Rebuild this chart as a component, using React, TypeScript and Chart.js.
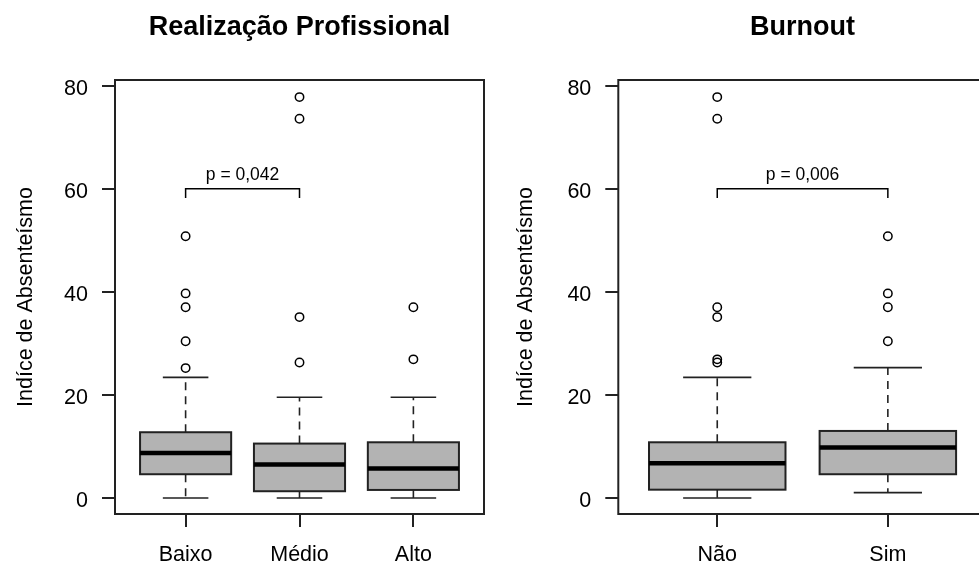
import React, { useEffect, useRef } from 'react';
import { Chart, registerables } from 'chart.js';

Chart.register(...registerables);

// ---------- data ----------
const yTicks = [0, 20, 40, 60, 80];
const yMin = -3.12;
const yMax = 81.12;

const realTitle = 'Realização Profissional';
const realCategories = ['Baixo', 'Médio', 'Alto'];
const realWhiskerLow = [0, 0, 0];
const realQ1 = [4.6, 1.3, 1.55];
const realMedian = [8.7, 6.5, 5.7];
const realQ3 = [12.75, 10.55, 10.8];
const realWhiskerHigh = [23.4, 19.55, 19.55];
const realOutliers = [
  [25.2, 30.4, 37, 39.7, 50.8],
  [26.3, 35.1, 73.6, 77.8],
  [26.9, 37],
];
const realPLabel = 'p = 0,042';
const realBracketFrom = 1;
const realBracketTo = 2;

const burnTitle = 'Burnout';
const burnCategories = ['Não', 'Sim'];
const burnWhiskerLow = [0, 1.03];
const burnQ1 = [1.6, 4.6];
const burnMedian = [6.75, 9.77];
const burnQ3 = [10.8, 13.0];
const burnWhiskerHigh = [23.4, 25.3];
const burnOutliers = [
  [26.3, 26.9, 35.1, 37, 73.6, 77.8],
  [30.4, 37, 39.7, 50.8],
];
const burnPLabel = 'p = 0,006';
const burnBracketFrom = 1;
const burnBracketTo = 2;

const bracketY = 60;
const bracketTickY = 58.2;
const pLabelY = 62.6;
const yLabel = 'Indíce de Absenteísmo';

// ---------- style ----------
const FONT = 'Liberation Sans, Arial, Helvetica, sans-serif';
const LINE = '#222222';

type Spec = {
  title: string;
  cats: string[];
  lo: number[];
  q1: number[];
  med: number[];
  q3: number[];
  hi: number[];
  out: number[][];
  pLabel: string;
  bFrom: number;
  bTo: number;
  padRight: number;
  axisWidth: number;
};

function makePlugin(spec: Spec) {
  return {
    id: 'boxplotDraw',
    beforeDatasetsDraw(chart: any) {
      const { ctx, chartArea } = chart;
      const x = chart.scales.x;
      const y = chart.scales.y;
      ctx.save();
      spec.cats.forEach((_, i) => {
        const pos = i + 1;
        const cx = x.getPixelForValue(pos);
        const bl = x.getPixelForValue(pos - 0.4);
        const br = x.getPixelForValue(pos + 0.4);
        const cl = x.getPixelForValue(pos - 0.2);
        const cr = x.getPixelForValue(pos + 0.2);
        const yLo = y.getPixelForValue(spec.lo[i]);
        const yQ1 = y.getPixelForValue(spec.q1[i]);
        const yMed = y.getPixelForValue(spec.med[i]);
        const yQ3 = y.getPixelForValue(spec.q3[i]);
        const yHi = y.getPixelForValue(spec.hi[i]);

        // dashed whiskers
        ctx.strokeStyle = LINE;
        ctx.lineWidth = 1.6;
        ctx.setLineDash([8, 6]);
        ctx.beginPath();
        ctx.moveTo(cx, yQ3);
        ctx.lineTo(cx, yHi);
        ctx.moveTo(cx, yQ1);
        ctx.lineTo(cx, yLo);
        ctx.stroke();
        ctx.setLineDash([]);

        // staples
        ctx.beginPath();
        ctx.moveTo(cl, yHi);
        ctx.lineTo(cr, yHi);
        ctx.moveTo(cl, yLo);
        ctx.lineTo(cr, yLo);
        ctx.stroke();

        // box
        ctx.fillStyle = '#b3b3b3';
        ctx.fillRect(bl, yQ3, br - bl, yQ1 - yQ3);
        ctx.lineWidth = 2;
        ctx.strokeRect(bl, yQ3, br - bl, yQ1 - yQ3);

        // median
        ctx.strokeStyle = '#000';
        ctx.lineWidth = 4.5;
        ctx.beginPath();
        ctx.moveTo(bl, yMed);
        ctx.lineTo(br, yMed);
        ctx.stroke();
      });

      // bracket with p-value
      const bx1 = x.getPixelForValue(spec.bFrom);
      const bx2 = x.getPixelForValue(spec.bTo);
      const byTop = y.getPixelForValue(bracketY);
      const byTick = y.getPixelForValue(bracketTickY);
      ctx.strokeStyle = '#000';
      ctx.lineWidth = 1.5;
      ctx.beginPath();
      ctx.moveTo(bx1, byTick);
      ctx.lineTo(bx1, byTop);
      ctx.lineTo(bx2, byTop);
      ctx.lineTo(bx2, byTick);
      ctx.stroke();
      ctx.fillStyle = '#000';
      ctx.font = `17.5px ${FONT}`;
      ctx.textAlign = 'center';
      ctx.textBaseline = 'middle';
      ctx.fillText(spec.pLabel, x.getPixelForValue((spec.bFrom + spec.bTo) / 2), y.getPixelForValue(pLabelY));

      // frame
      ctx.strokeStyle = LINE;
      ctx.lineWidth = 2;
      ctx.strokeRect(chartArea.left, chartArea.top, chartArea.right - chartArea.left, chartArea.bottom - chartArea.top);

      // title
      ctx.fillStyle = '#000';
      ctx.font = `bold 27px ${FONT}`;
      ctx.textAlign = 'center';
      ctx.textBaseline = 'middle';
      ctx.fillText(spec.title, (chartArea.left + chartArea.right) / 2, 28);
      ctx.restore();
    },
  };
}

function BoxChart({ spec, left }: { spec: Spec; left: number }) {
  const ref = useRef<HTMLCanvasElement>(null);
  useEffect(() => {
    if (!ref.current) return;
    const n = spec.cats.length;
    const pad = n * 0.04;
    const datasets = spec.out.map((vals, i) => ({
      type: 'scatter' as const,
      data: vals.map((v) => ({ x: i + 1, y: v })),
      pointRadius: 4.2,
      pointBorderWidth: 1.5,
      pointBorderColor: '#000',
      pointBackgroundColor: 'rgba(0,0,0,0)',
      pointHoverRadius: 4.2,
    }));
    const tickFont = { family: FONT, size: 21.5 };
    const chart = new Chart(ref.current, {
      type: 'scatter',
      data: { datasets },
      plugins: [makePlugin(spec)],
      options: {
        animation: false,
        responsive: false,
        devicePixelRatio: 1,
        events: [],
        layout: { padding: { top: 80, right: spec.padRight, left: 0, bottom: 0 } },
        plugins: { legend: { display: false }, tooltip: { enabled: false }, title: { display: false } },
        scales: {
          x: {
            type: 'linear',
            min: 0.5 - pad,
            max: n + 0.5 + pad,
            afterBuildTicks: (s: any) => {
              s.ticks = spec.cats.map((_, i) => ({ value: i + 1 }));
            },
            afterFit: (s: any) => {
              s.height = 49;
            },
            ticks: {
              callback: (v: any) => spec.cats[Math.round(v) - 1] ?? '',
              font: tickFont,
              color: '#000',
              padding: 15,
              maxRotation: 0,
              autoSkip: false,
            },
            grid: { drawOnChartArea: false, drawTicks: true, tickLength: 13, color: LINE, lineWidth: 2 },
            border: { display: false },
          },
          y: {
            type: 'linear',
            min: yMin,
            max: yMax,
            afterBuildTicks: (s: any) => {
              s.ticks = yTicks.map((v) => ({ value: v }));
            },
            afterFit: (s: any) => {
              s.width = spec.axisWidth;
            },
            ticks: {
              callback: (v: any) => String(v),
              font: tickFont,
              color: '#000',
              padding: 14,
              labelOffset: 3,
            },
            grid: { drawOnChartArea: false, drawTicks: true, tickLength: 13, color: LINE, lineWidth: 2 },
            border: { display: false },
            title: {
              display: true,
              text: yLabel,
              font: { family: FONT, size: 21.5 },
              color: '#000',
              padding: { top: 13, bottom: 0 },
            },
          },
        },
      } as any,
    });
    return () => chart.destroy();
  }, [spec]);
  return (
    <canvas
      ref={ref}
      width={500}
      height={563}
      style={{ position: 'absolute', left, top: 0, width: 500, height: 563 }}
    />
  );
}

const realSpec: Spec = {
  title: realTitle,
  cats: realCategories,
  lo: realWhiskerLow,
  q1: realQ1,
  med: realMedian,
  q3: realQ3,
  hi: realWhiskerHigh,
  out: realOutliers,
  pLabel: realPLabel,
  bFrom: realBracketFrom,
  bTo: realBracketTo,
  padRight: 16,
  axisWidth: 115,
};

const burnSpec: Spec = {
  title: burnTitle,
  cats: burnCategories,
  lo: burnWhiskerLow,
  q1: burnQ1,
  med: burnMedian,
  q3: burnQ3,
  hi: burnWhiskerHigh,
  out: burnOutliers,
  pLabel: burnPLabel,
  bFrom: burnBracketFrom,
  bTo: burnBracketTo,
  padRight: 13.2,
  axisWidth: 118.3,
};

export default function App() {
  return (
    <div
      style={{
        position: 'absolute',
        left: 0,
        top: 0,
        width: 979,
        height: 563,
        overflow: 'hidden',
        background: '#fff',
      }}
    >
      <BoxChart spec={realSpec} left={0} />
      <BoxChart spec={burnSpec} left={500} />
    </div>
  );
}
